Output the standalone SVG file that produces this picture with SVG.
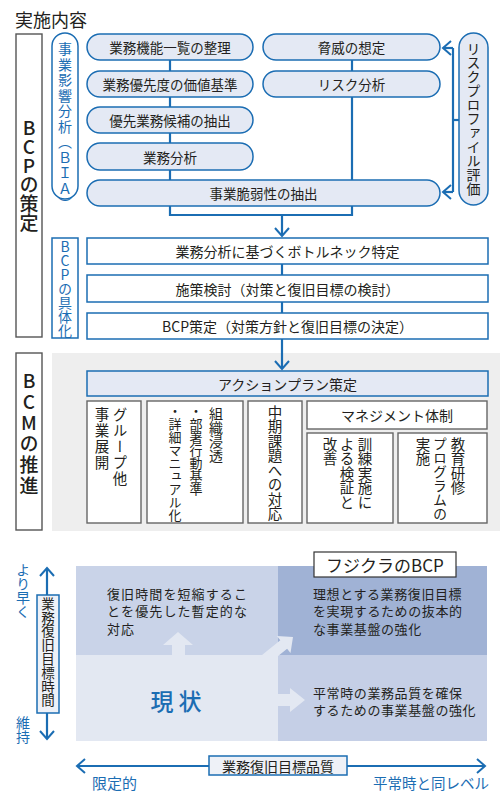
<svg xmlns="http://www.w3.org/2000/svg" width="500" height="800" viewBox="0 0 500 800">
<style>
text{font-family:"Noto Sans CJK JP","Noto Sans",sans-serif;fill:#231f20}
.v{writing-mode:vertical-rl;text-orientation:upright}
.c{text-anchor:middle;dominant-baseline:central}
.b{fill:#1b6db3}
.pill{fill:#e4e9f4;stroke:#1b6db3;stroke-width:1.5}
.bx{fill:#fff;stroke:#1b6db3;stroke-width:1.5}
.gb{fill:#fff;stroke:#666;stroke-width:1.4}
.ln{fill:none;stroke:#1b6db3;stroke-width:2.2}
.f13{font-size:13.5px}
.f14{font-size:14px}
</style>
<defs>
<marker id="ah" viewBox="0 0 16 16" refX="14" refY="8" markerWidth="16" markerHeight="16" markerUnits="userSpaceOnUse" orient="auto-start-reverse">
<path d="M6 1 L14 8 L6 15" fill="none" stroke="#1b6db3" stroke-width="2"/>
</marker>
</defs>
<rect width="500" height="800" fill="#fff"/>
<text x="15" y="27" style="font-size:18px">実施内容</text>

<!-- background panel -->
<rect x="52" y="353" width="448" height="178" fill="#eeeeee"/>

<!-- connectors -->
<g id="connectors">
<path class="ln" d="M170 60 V180"/>
<path class="ln" d="M352 60 V180"/>
<path class="ln" d="M170 206 V215 H352 V206"/>
<path class="ln" d="M282 215 V236" marker-end="url(#ah)"/>
<path class="ln" d="M282 264 V275"/>
<path class="ln" d="M282 302 V313"/>
<path class="ln" d="M282 339 V369" marker-end="url(#ah)"/>
<path class="ln" d="M453 48 V192"/>
<path class="ln" d="M453 48 H443" marker-end="url(#ah)"/>
<path class="ln" d="M453 192 H443" marker-end="url(#ah)"/>
<path class="ln" d="M453 120 H459"/>
</g>

<!-- stage labels -->
<g id="bcp-sakutei"><rect class="gb" x="16" y="34" width="26" height="303" style="stroke:#555"/><text class="v" x="29" y="118" style="font-size:19px;font-weight:500">BCPの策定</text></g>
<g id="bcm-suishin"><rect class="gb" x="16" y="353" width="26" height="177" style="stroke:#555"/><text class="v" x="29" y="371" style="font-size:19px;letter-spacing:2px;font-weight:500">BCMの推進</text></g>
<g id="bia"><rect class="pill" x="52" y="33" width="26" height="166" rx="13" style="fill:#fff"/><text class="v b" x="65" y="42" style="font-size:14px;letter-spacing:1.5px">事業影響分析（ＢＩＡ）</text></g>
<g id="gutaika"><rect class="bx" x="52" y="238" width="26" height="100"/><text class="v b" x="65" y="240" style="font-size:14px">BCPの具体化</text></g>
<g id="risk-profile"><rect class="pill" x="459" y="33" width="29" height="172" rx="14.5"/><text class="v" x="473.5" y="42" style="font-size:14px">リスクプロファイル評価</text></g>

<!-- BIA pills -->
<g id="n1"><rect class="pill" x="87" y="34" width="166" height="26" rx="13"/><text class="c f13" x="170" y="47">業務機能一覧の整理</text></g>
<g id="n2"><rect class="pill" x="87" y="71" width="166" height="26" rx="13"/><text class="c f13" x="170" y="84">業務優先度の価値基準</text></g>
<g id="n3"><rect class="pill" x="87" y="107" width="166" height="26" rx="13"/><text class="c f13" x="170" y="120">優先業務候補の抽出</text></g>
<g id="n4"><rect class="pill" x="87" y="143" width="166" height="27" rx="13"/><text class="c f13" x="170" y="156.5">業務分析</text></g>
<g id="n5"><rect class="pill" x="263" y="34" width="177" height="26" rx="13"/><text class="c f13" x="351.5" y="47">脅威の想定</text></g>
<g id="n6"><rect class="pill" x="263" y="71" width="177" height="26" rx="13"/><text class="c f13" x="351.5" y="84">リスク分析</text></g>
<g id="n7"><rect class="pill" x="87" y="180" width="353" height="26" rx="13"/><text class="c f13" x="263.5" y="193">事業脆弱性の抽出</text></g>

<!-- concretization boxes -->
<g id="n8"><rect class="bx" x="87" y="238" width="401" height="26"/><text class="c f14" x="287.5" y="251">業務分析に基づくボトルネック特定</text></g>
<g id="n9"><rect class="bx" x="87" y="275" width="401" height="27"/><text class="c f14" x="287.5" y="288.5">施策検討（対策と復旧目標の検討）</text></g>
<g id="n10"><rect class="bx" x="87" y="313" width="401" height="26"/><text class="c f14" x="287.5" y="326">BCP策定（対策方針と復旧目標の決定）</text></g>

<!-- BCM -->
<g id="n11"><rect class="bx" x="87" y="371" width="401" height="25" style="fill:#e4e9f4"/><text class="c f14" x="287.5" y="383.5">アクションプラン策定</text></g>
<g id="n12"><rect class="gb" x="87" y="401" width="54" height="122"/><text class="v" x="120" y="407" style="font-size:14.5px;letter-spacing:1.5px">グループ他</text><text class="v" x="102" y="407" style="font-size:14.5px;letter-spacing:1.5px">事業展開</text></g>
<g id="n13"><rect class="gb" x="147" y="401" width="96" height="122"/><text class="v" x="216" y="407" style="font-size:14px">組織浸透</text><text class="v" x="196" y="405" style="font-size:13px">・部署行動基準</text><text class="v" x="175" y="405" style="font-size:13px">・詳細マニュアル化</text></g>
<g id="n14"><rect class="gb" x="248" y="401" width="54" height="122"/><text class="v" x="275" y="405" style="font-size:14.5px">中期課題への対応</text></g>
<g id="n15"><rect class="gb" x="307" y="401" width="180" height="28"/><text class="c f14" x="397" y="415">マネジメント体制</text></g>
<g id="n16"><rect class="gb" x="307" y="433" width="86" height="90"/><text class="v" x="365" y="437" style="font-size:14.5px">訓練実施に</text><text class="v" x="347" y="437" style="font-size:14.5px">よる検証と</text><text class="v" x="330" y="437" style="font-size:14.5px">改善</text></g>
<g id="n17"><rect class="gb" x="398" y="433" width="89" height="90"/><text class="v" x="458" y="437" style="font-size:14.5px">教育研修</text><text class="v" x="440" y="437" style="font-size:14px">プログラムの</text><text class="v" x="423" y="437" style="font-size:14.5px">実施</text></g>

<!-- bottom matrix -->
<rect x="76" y="566" width="202" height="89" fill="#c9d3e8"/>
<rect x="278" y="566" width="209" height="89" fill="#a0b2d5"/>
<rect x="76" y="655" width="202" height="86" fill="#e3e8f2"/>
<rect x="278" y="655" width="209" height="86" fill="#c5cfe6"/>
<polygon points="172,660 172,645 163,645 178,632 193,645 185,645 185,660" fill="#e3e8f2"/>
<polygon points="258.6,657.7 280.3,640.2 276.9,635.9 293,637 290.5,653.1 287.1,648.8 265.4,666.3" fill="#e3e8f2"/>
<polygon points="270,694 290,694 290,688 305,700 290,712 290,706 270,706" fill="#e3e8f2"/>
<g style="font-size:13px;letter-spacing:1.1px">
<text x="107" y="593" dominant-baseline="central">復旧時間を短縮するこ</text>
<text x="107" y="610.5" dominant-baseline="central">とを優先した暫定的な</text>
<text x="107" y="628" dominant-baseline="central">対応</text>
</g>
<g style="font-size:13px;letter-spacing:0.6px">
<text x="313" y="593" dominant-baseline="central">理想とする業務復旧目標</text>
<text x="313" y="610.5" dominant-baseline="central">を実現するための抜本的</text>
<text x="313" y="628" dominant-baseline="central">な事業基盤の強化</text>
<text x="313" y="692" dominant-baseline="central">平常時の業務品質を確保</text>
<text x="313" y="709.5" dominant-baseline="central">するための事業基盤の強化</text>
</g>
<text class="c b" x="176" y="700" style="font-size:23px;font-weight:500">現 状</text>
<g id="fujikura"><rect x="314" y="552" width="142" height="25" fill="#fff" stroke="#333" stroke-width="1.2"/><text class="c" x="385" y="564.5" style="font-size:17px">フジクラのBCP</text></g>

<!-- axes -->
<path class="ln" d="M47 568 V739" marker-start="url(#ah)" marker-end="url(#ah)"/>
<rect x="37" y="595" width="22" height="118" fill="#eef1f7" stroke="#1b6db3" stroke-width="1.5"/>
<text class="v" x="48" y="597" style="font-size:13.5px;letter-spacing:0.3px">業務復旧目標時間</text>
<text class="v b" x="23" y="563" style="font-size:14px">より早く</text>
<text class="v b" x="23" y="716" style="font-size:14px">維持</text>
<path class="ln" d="M77 766 H485" marker-start="url(#ah)" marker-end="url(#ah)"/>
<rect x="209" y="756" width="138" height="19" fill="#eef1f7" stroke="#1b6db3" stroke-width="1.5"/>
<text class="c" x="278" y="765.5" style="font-size:14px">業務復旧目標品質</text>
<text class="b" x="92" y="789" style="font-size:15px">限定的</text>
<text class="b" x="373" y="789" style="font-size:14.5px">平常時と同レベル</text>
</svg>
